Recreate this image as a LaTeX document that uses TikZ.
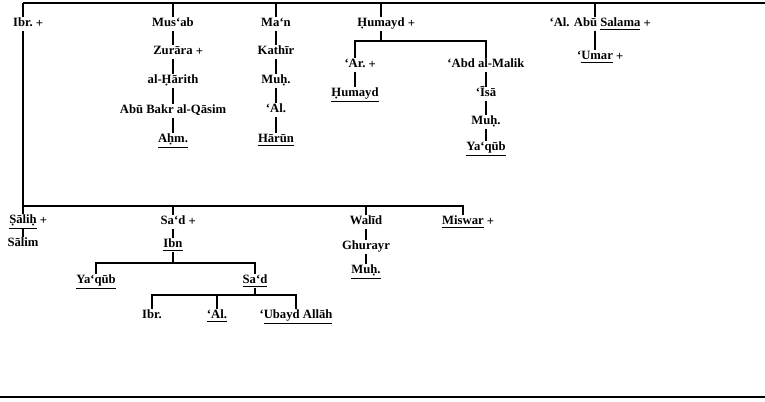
\documentclass[tikz,border=0pt]{standalone}
\usepackage{fontspec}
\setmainfont{Liberation Serif}
\begin{document}
\begin{tikzpicture}[x=0.75pt,y=-0.75pt,
  nm/.style={font=\fontsize{9.5}{11}\selectfont\bfseries, inner sep=1pt, text height=6.5pt, text depth=2pt},
  dg/.style={label={[font=\fontsize{9.5}{11}\selectfont\bfseries, inner sep=1pt]right:+}},
  ln/.style={line width=1.1pt},
  bar/.style={line width=1.5pt}]
\useasboundingbox (0,0) rectangle (765,402);
% coordinates for bars
\coordinate (tL) at (23,3);
\coordinate (tR) at (765,3);
\coordinate (mL) at (23,206);
\coordinate (hb) at (381,41);
\coordinate (ib) at (173,263);
\coordinate (sb) at (255,295);
\coordinate (bL) at (0,397);
\coordinate (bR) at (765,397);
% top generation
\node[nm,dg] (ibr1) at (23,24) {Ibr.};
\node[nm] (musab) at (173,24) {Mus‘ab};
\node[nm,dg] (zurara) at (173,52) {Zurāra};
\node[nm] (harith) at (173,81) {al-Ḥārith};
\node[nm] (abubakr) at (173,111) {Abū Bakr al-Qāsim};
\node[nm] (ahm) at (173,140) {\underline{Aḥm.}};
\node[nm] (man) at (276,24) {Ma‘n};
\node[nm] (kathir) at (276,52) {Kathīr};
\node[nm] (muh1) at (276,81) {Muḥ.};
\node[nm] (al1) at (276,110) {‘Al.};
\node[nm] (harun) at (276,140) {\underline{Hārūn}};
\node[nm,dg] (humayd1) at (381,24) {Ḥumayd};
\node[nm,dg] (ar) at (355,65) {‘Ar.};
\node[nm] (humayd2) at (355,94) {\underline{Ḥumayd}};
\node[nm] (abdmalik) at (486,65) {‘Abd al-Malik};
\node[nm] (isa) at (486,94) {‘Īsā};
\node[nm] (muh2) at (486,122) {Muḥ.};
\node[nm] (yaqub1) at (486,148) {\underline{Ya‘qūb}};
\node[nm,dg] (alabu) at (595,24) {‘Al. Abū \underline{Salama}};
\node[nm,dg] (umar) at (595,57) {‘\underline{Umar}};
% lower generation
\node[nm,dg] (salih) at (23,221) {\underline{Ṣāliḥ}};
\node[nm] (salim) at (23,244) {Sālim};
\node[nm,dg] (sad1) at (173,222) {Sa‘d};
\node[nm] (ibn) at (173,245) {\underline{Ibn}};
\node[nm] (yaqub2) at (96,281) {\underline{Ya‘qūb}};
\node[nm] (sad2) at (255,281) {\underline{Sa‘d}};
\node[nm] (ibr2) at (152,316) {Ibr.};
\node[nm] (al2) at (217,316) {\underline{‘Al.}};
\node[nm] (ubayd) at (296,316) {‘\underline{Ubayd Allāh}};
\node[nm] (walid) at (366,222) {Walīd};
\node[nm] (ghurayr) at (366,247) {Ghurayr};
\node[nm] (muh3) at (366,271) {\underline{Muḥ.}};
\node[nm,dg] (miswar) at (463,222) {\underline{Miswar}};
% bars
\draw[bar] (tL) -- (tR);
\draw[bar] (bL) -- (bR);
% top drops
\draw[ln] (tL) -- (ibr1);
\draw[ln] (musab) -- (musab |- tL);
\draw[ln] (man) -- (man |- tL);
\draw[ln] (humayd1) -- (humayd1 |- tL);
\draw[ln] (alabu) -- (alabu |- tL);
% chains
\draw[ln] (musab) -- (zurara);
\draw[ln] (zurara) -- (harith);
\draw[ln] (harith) -- (abubakr);
\draw[ln] (abubakr) -- (ahm);
\draw[ln] (man) -- (kathir);
\draw[ln] (kathir) -- (muh1);
\draw[ln] (muh1) -- (al1);
\draw[ln] (al1) -- (harun);
\draw[ln] (humayd1) -- (hb);
\draw[ln] (ar) |- (hb) -| (abdmalik);
\draw[ln] (ar) -- (humayd2);
\draw[ln] (abdmalik) -- (isa);
\draw[ln] (isa) -- (muh2);
\draw[ln] (muh2) -- (yaqub1);
\draw[ln] (alabu) -- (umar);
% lower
\draw[ln] (ibr1) -- (mL);
\draw[ln] (mL) -- (miswar.north |- mL) -- (miswar);
\draw[ln] (mL) -- (salih);
\draw[ln] (salih) -- (salim);
\draw[ln] (sad1) -- (sad1 |- mL);
\draw[ln] (walid) -- (walid |- mL);
\draw[ln] (sad1) -- (ibn);
\draw[ln] (ibn) -- (ib);
\draw[ln] (yaqub2) |- (ib) -| (sad2);
\draw[ln] (sad2) -- (sb);
\draw[ln] (ibr2) |- (sb) -| (ubayd);
\draw[ln] (al2) -- (al2 |- sb);
\draw[ln] (walid) -- (ghurayr);
\draw[ln] (ghurayr) -- (muh3);
\end{tikzpicture}
\end{document}
